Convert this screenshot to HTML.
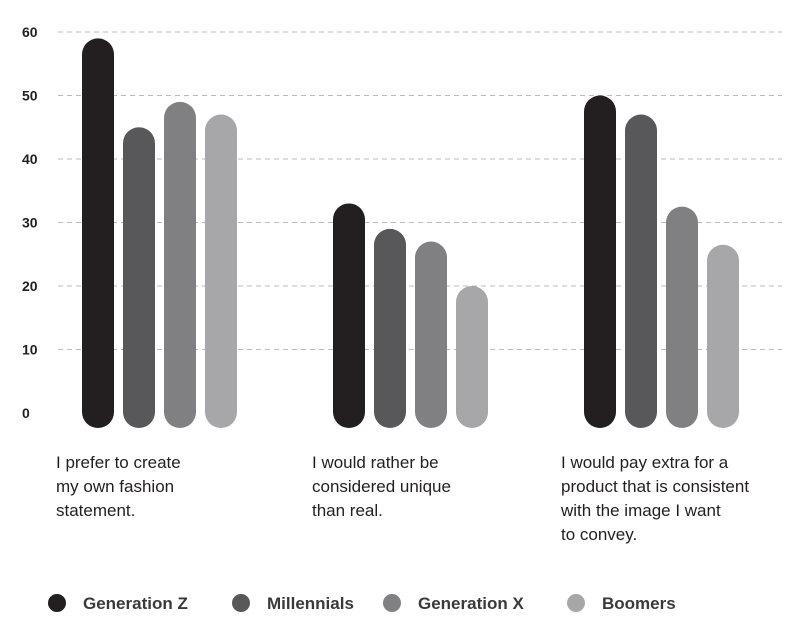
<!DOCTYPE html>
<html><head><meta charset="utf-8"><style>
body{margin:0;background:#fff;}
svg{display:block;font-family:"Liberation Sans",sans-serif;}
</style></head><body>
<svg id="chart" width="788" height="631" viewBox="0 0 788 631" xmlns="http://www.w3.org/2000/svg"></svg>
<script>
const categories=["I prefer to create|my own fashion|statement.","I would rather be|considered unique|than real.","I would pay extra for a|product that is consistent|with the image I want|to convey."];
const seriesNames=["Generation Z","Millennials","Generation X","Boomers"];
const genZ=[59,33,50];
const millennials=[45,29,47];
const genX=[49,27,32.5];
const boomers=[47,20,26.5];
const yTicks=[0,10,20,30,40,50,60];
const colors=["#231f20","#58585a","#808083","#a7a7a9"];
const series=[genZ,millennials,genX,boomers];
const NS="http://www.w3.org/2000/svg";
const svg=document.getElementById('chart');
function y(v){return 413-v*(381/60);}
function groupX(i){return 82+i*251;}
function mk(t,a){const e=document.createElementNS(NS,t);for(const k in a)e.setAttribute(k,a[k]);svg.appendChild(e);return e;}
yTicks.forEach(t=>{
  if(t>0){const l=mk('line',{x1:58,x2:782,y1:y(t),y2:y(t),stroke:'#bbb','stroke-width':1,'stroke-dasharray':'5,4'});
  
  }
  const tx=mk('text',{x:22,y:y(t)+5,'font-size':14,'font-weight':'bold',fill:'#231f20'});
  tx.textContent=t;
  
  
});
categories.forEach((c,i)=>{
  series.forEach((s,j)=>{
    const x=groupX(i)+j*41, top=y(s[i]);
    const r=mk('rect',{x:x,y:top,width:32,height:428-top,rx:16,ry:16,fill:colors[j]});
    
    
  });
  c.split('|').forEach((ln,k)=>{
    const t=mk('text',{x:groupX(i)-26+(i==1?5:0)+(i==2?-22+25:0),y:468+k*24,'font-size':17,fill:'#231f20',textLength:0});
    t.removeAttribute('textLength');
    t.textContent=ln;
    
    
  });
});
const legX=[57,241,392,576];
seriesNames.forEach((n,j)=>{
  const c=mk('circle',{cx:legX[j],cy:603,r:9,fill:colors[j]});
  
  
  const t=mk('text',{x:legX[j]+26,y:609,'font-size':17,'font-weight':'bold',fill:'#3a3a3a'});
  t.textContent=n;
  
  
});
</script>
</body></html>
